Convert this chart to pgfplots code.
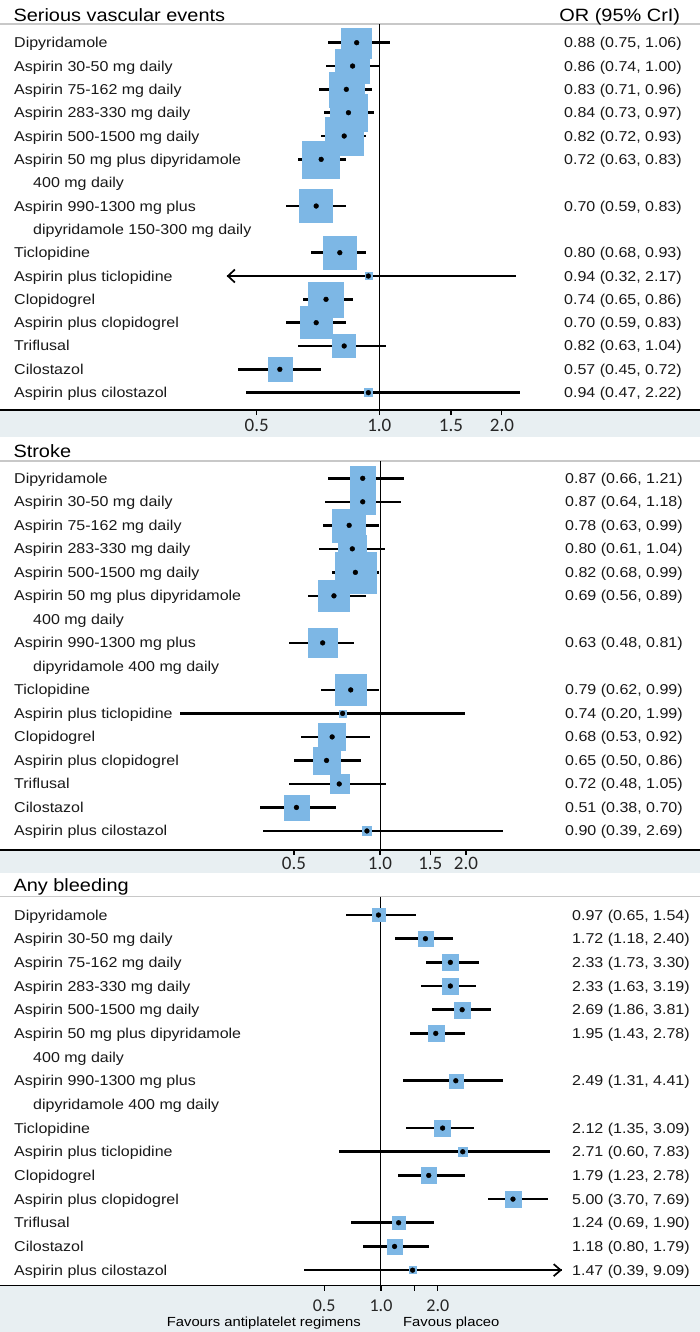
\documentclass[border=0pt]{standalone}
\usepackage{fontspec}
\setmainfont{Liberation Sans}[FakeStretch=1.12]
\newfontfamily\tickfont{Carlito}
\usepackage{pgfplots}
\pgfplotsset{compat=1.18}
\usepackage{pgfplotstable}
\usetikzlibrary{arrows.meta}

\definecolor{boxblue}{RGB}{125,183,229}
\definecolor{bandgrey}{RGB}{232,239,242}
\definecolor{hdrgrey}{RGB}{200,200,200}

% k = row, or = odds ratio, lo/hi = 95% CrI, box = square side (px)
\pgfplotstableread{
k  or   lo   hi   box
0  0.88 0.75 1.06 30
1  0.86 0.74 1.00 34
2  0.83 0.71 0.96 35
3  0.84 0.73 0.97 37
4  0.82 0.72 0.93 38
5  0.72 0.63 0.83 37
7  0.70 0.59 0.83 33
9  0.80 0.68 0.93 33
10 0.94 0.32 2.17 7
11 0.74 0.65 0.86 35
12 0.70 0.59 0.83 32
13 0.82 0.63 1.04 23
14 0.57 0.45 0.72 24
15 0.94 0.47 2.22 8
}\sve

\pgfplotstableread{
k  or   lo   hi   box
0  0.87 0.66 1.21 25
1  0.87 0.64 1.18 25
2  0.78 0.63 0.99 33
3  0.80 0.61 1.04 28
4  0.82 0.68 0.99 41
5  0.69 0.56 0.89 31
7  0.63 0.48 0.81 29
9  0.79 0.62 0.99 31
10 0.74 0.20 1.99 7
11 0.68 0.53 0.92 27
12 0.65 0.50 0.86 27
13 0.72 0.48 1.05 19
14 0.51 0.38 0.70 25
15 0.90 0.39 2.69 9
}\stroke

\pgfplotstableread{
k  or   lo   hi   box
0  0.97 0.65 1.54 13
1  1.72 1.18 2.40 15.5
2  2.33 1.73 3.30 15.5
3  2.33 1.63 3.19 15.5
4  2.69 1.86 3.81 16
5  1.95 1.43 2.78 16
7  2.49 1.31 4.41 14
9  2.12 1.35 3.09 16
10 2.71 0.60 7.83 9
11 1.79 1.23 2.78 15.5
12 5.00 3.70 7.69 15.5
13 1.24 0.69 1.90 13
14 1.18 0.80 1.79 15
15 1.47 0.39 9.09 7
}\bleed

\tikzset{lab/.style={anchor=base west, inner sep=0pt, font=\fontsize{14.3}{16}\selectfont, text=black!90}}

\newcommand\rowlabels[3]{%
  \foreach \k/\lab in {0/Dipyridamole,1/Aspirin 30-50 mg daily,2/Aspirin 75-162 mg daily,3/Aspirin 283-330 mg daily,4/Aspirin 500-1500 mg daily,5/Aspirin 50 mg plus dipyridamole,7/Aspirin 990-1300 mg plus,9/Ticlopidine,10/Aspirin plus ticlopidine,11/Clopidogrel,12/Aspirin plus clopidogrel,13/Triflusal,14/Cilostazol,15/Aspirin plus cilostazol}
    {\node[lab] at (14,{-(#1+#2*\k)-5}) {\lab};}
  \node[lab] at (33,{-(#1+#2*6)-5}) {400 mg daily};
  \node[lab] at (33,{-(#1+#2*8)-5}) {#3};
}

\begin{document}
\begin{tikzpicture}[x=1pt,y=1pt]
\useasboundingbox (0,0) rectangle (700,-1332);
\fill[white] (0,0) rectangle (700,-1332);

% grey bands under axes
\fill[bandgrey] (0,-410) rectangle (700,-437);
\fill[bandgrey] (0,-850) rectangle (700,-873);
\fill[bandgrey] (0,-1285.5) rectangle (700,-1332);

% header lines
\draw[hdrgrey, line width=1.3pt] (0,-24) -- (700,-24);
\draw[hdrgrey, line width=1.3pt] (0,-461) -- (700,-461);
\draw[hdrgrey, line width=1.3pt] (0,-896.7) -- (700,-896.7);

% ---------- Panel 1 ----------
\begin{axis}[xmode=log, scale only axis, width=700pt, height=386pt,
  at={(0pt,-24pt)}, anchor=north west, y dir=reverse,
  axis x line=bottom, axis y line=none,
  x axis line style={-, line width=1.2pt, black},
  ytick=\empty, xminorticks=false, clip=false,
  tick align=outside, major tick length=5pt,
  tick style={black, line width=1.1pt},
  xmin=0.11717, xmax=6.1285, ymin=-0.8015, ymax=15.743,
  xtick={0.5,1,1.5,2}, xticklabels={0.5,1.0,1.5,2.0},
  xticklabel style={font=\tickfont\fontsize{19}{21}\selectfont, anchor=center, text=black!85, yshift=-10.5pt}]
\draw[black, line width=1pt] (axis cs:1,-0.8015) -- (axis cs:1,15.743);
\addplot[scatter, only marks, mark=square*,
    scatter/use mapped color={draw=boxblue, fill=boxblue},
    visualization depends on={\thisrow{box}/2 \as \bs},
    scatter/@pre marker code/.append style={/tikz/mark size=\bs}]
  table[x=or,y=k]{\sve};
\addplot[only marks, mark=*, mark size=2.4pt, black, line width=2.6pt,
    mark options={line width=0.4pt},
    error bars/x dir=both, error bars/x explicit, error bars/error mark=none,
    error bars/error bar style={line width=2.6pt, black}]
  table[x=or,y=k,
  x error plus expr=\thisrow{hi}-\thisrow{or},
  x error minus expr={\thisrow{or}-max(\thisrow{lo},0.422)}]{\sve};
\addplot[black, line width=2.6pt, -{Straight Barb[length=7pt,width=13pt,line width=1.7pt]}]
  coordinates {(0.5,10) (0.422,10)};
\end{axis}

% ---------- Panel 2 ----------
\begin{axis}[xmode=log, scale only axis, width=700pt, height=389pt,
  at={(0pt,-461pt)}, anchor=north west, y dir=reverse,
  axis x line=bottom, axis y line=none,
  x axis line style={-, line width=1.2pt, black},
  ytick=\empty, xminorticks=false, clip=false,
  tick align=outside, major tick length=5pt,
  tick style={black, line width=1.1pt},
  xmin=0.046792, xmax=13.178, ymin=-0.736, ymax=15.81,
  xtick={0.5,1,1.5,2}, xticklabels={0.5,1.0,1.5,2.0},
  xticklabel style={font=\tickfont\fontsize{19}{21}\selectfont, anchor=center, text=black!85, yshift=-8.8pt}]
\draw[black, line width=1pt] (axis cs:1,-0.736) -- (axis cs:1,15.81);
\addplot[scatter, only marks, mark=square*,
    scatter/use mapped color={draw=boxblue, fill=boxblue},
    visualization depends on={\thisrow{box}/2 \as \bs},
    scatter/@pre marker code/.append style={/tikz/mark size=\bs}]
  table[x=or,y=k]{\stroke};
\addplot[only marks, mark=*, mark size=2.4pt, black, line width=2.6pt,
    mark options={line width=0.4pt},
    error bars/x dir=both, error bars/x explicit, error bars/error mark=none,
    error bars/error bar style={line width=2.6pt, black}]
  table[x=or,y=k,
  x error plus expr=\thisrow{hi}-\thisrow{or},
  x error minus expr=\thisrow{or}-\thisrow{lo}]{\stroke};
\end{axis}

% ---------- Panel 3 ----------
\begin{axis}[xmode=log, scale only axis, width=700pt, height=388.8pt,
  at={(0pt,-896.7pt)}, anchor=north west, y dir=reverse,
  axis x line=bottom, axis y line=none,
  x axis line style={-, line width=1.2pt, black},
  ytick=\empty, xminorticks=false, clip=false,
  tick align=outside, major tick length=5pt,
  tick style={black, line width=1.1pt},
  xmin=0.009597, xmax=48.92, ymin=-0.773, ymax=15.65,
  xtick={0.5,1,1.5,2}, xticklabels={0.5,1.0,,2.0},
  xticklabel style={font=\tickfont\fontsize{18}{20}\selectfont, anchor=center, text=black!85, yshift=-15.5pt}]
\draw[black, line width=1pt] (axis cs:1,-0.773) -- (axis cs:1,15.65);
\addplot[scatter, only marks, mark=square*,
    scatter/use mapped color={draw=boxblue, fill=boxblue},
    visualization depends on={\thisrow{box}/2 \as \bs},
    scatter/@pre marker code/.append style={/tikz/mark size=\bs}]
  table[x=or,y=k]{\bleed};
\addplot[only marks, mark=*, mark size=2.4pt, black, line width=2.6pt,
    mark options={line width=0.4pt},
    error bars/x dir=both, error bars/x explicit, error bars/error mark=none,
    error bars/error bar style={line width=2.6pt, black}]
  table[x=or,y=k,
  x error plus expr=\thisrow{hi}-\thisrow{or},
  x error minus expr=\thisrow{or}-\thisrow{lo}]{\bleed};
\addplot[black, line width=2.6pt, -{Straight Barb[length=7pt,width=12pt,line width=1.7pt]}]
  coordinates {(8.5,15) (9.09,15)};
\end{axis}

% ---------- Titles ----------
\node[anchor=base west, inner sep=0pt, font=\fontsize{17.8}{20}\selectfont] at (13.3,-22) {Serious vascular events};
\node[anchor=base east, inner sep=0pt, font=\fontsize{17.8}{20}\selectfont] at (680.3,-22) {OR (95\% CrI)};
\node[anchor=base west, inner sep=0pt, font=\fontsize{17.8}{20}\selectfont] at (13.3,-457) {Stroke};
\node[anchor=base west, inner sep=0pt, font=\fontsize{17.8}{20}\selectfont] at (13.3,-891) {Any bleeding};

% ---------- Row labels ----------
\rowlabels{42.7}{23.33}{dipyridamole 150-300 mg daily}
\rowlabels{478.3}{23.51}{dipyridamole 400 mg daily}
\rowlabels{915}{23.67}{dipyridamole 400 mg daily}

% ---------- Values ----------
\foreach \k/\v in {0/{0.88 (0.75, 1.06)},1/{0.86 (0.74, 1.00)},2/{0.83 (0.71, 0.96)},3/{0.84 (0.73, 0.97)},4/{0.82 (0.72, 0.93)},5/{0.72 (0.63, 0.83)},7/{0.70 (0.59, 0.83)},9/{0.80 (0.68, 0.93)},10/{0.94 (0.32, 2.17)},11/{0.74 (0.65, 0.86)},12/{0.70 (0.59, 0.83)},13/{0.82 (0.63, 1.04)},14/{0.57 (0.45, 0.72)},15/{0.94 (0.47, 2.22)}}
  {\node[lab] at (564,{-(42.7+23.33*\k)-5}) {\v};}
\foreach \k/\v in {0/{0.87 (0.66, 1.21)},1/{0.87 (0.64, 1.18)},2/{0.78 (0.63, 0.99)},3/{0.80 (0.61, 1.04)},4/{0.82 (0.68, 0.99)},5/{0.69 (0.56, 0.89)},7/{0.63 (0.48, 0.81)},9/{0.79 (0.62, 0.99)},10/{0.74 (0.20, 1.99)},11/{0.68 (0.53, 0.92)},12/{0.65 (0.50, 0.86)},13/{0.72 (0.48, 1.05)},14/{0.51 (0.38, 0.70)},15/{0.90 (0.39, 2.69)}}
  {\node[lab] at (565,{-(478.3+23.51*\k)-5}) {\v};}
\foreach \k/\v in {0/{0.97 (0.65, 1.54)},1/{1.72 (1.18, 2.40)},2/{2.33 (1.73, 3.30)},3/{2.33 (1.63, 3.19)},4/{2.69 (1.86, 3.81)},5/{1.95 (1.43, 2.78)},7/{2.49 (1.31, 4.41)},9/{2.12 (1.35, 3.09)},10/{2.71 (0.60, 7.83)},11/{1.79 (1.23, 2.78)},12/{5.00 (3.70, 7.69)},13/{1.24 (0.69, 1.90)},14/{1.18 (0.80, 1.79)},15/{1.47 (0.39, 9.09)}}
  {\node[lab] at (572,{-(915+23.67*\k)-5}) {\v};}

% ---------- Bottom captions ----------
\node[anchor=base east, inner sep=0pt, font=\fontsize{13.2}{15}\selectfont] at (361,-1326) {Favours antiplatelet regimens};
\node[anchor=base west, inner sep=0pt, font=\fontsize{13.2}{15}\selectfont] at (403,-1326) {Favous placeo};
\end{tikzpicture}
\end{document}
